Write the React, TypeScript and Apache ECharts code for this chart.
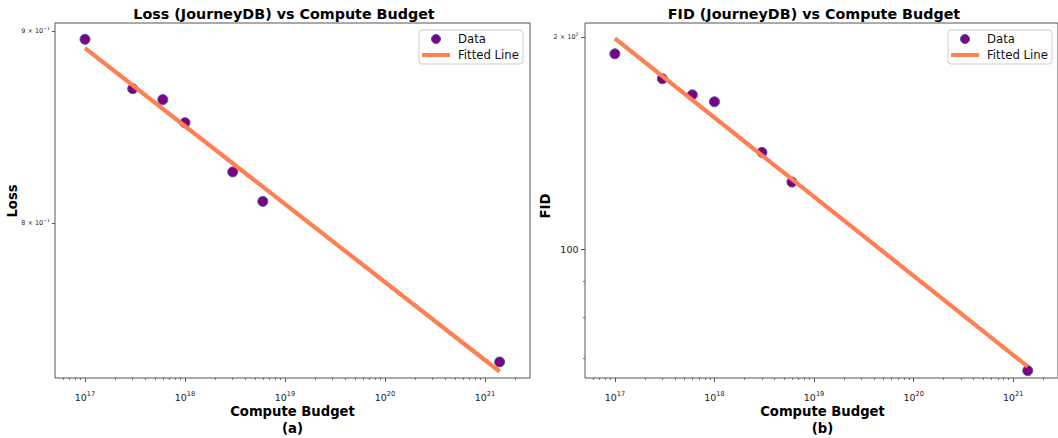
import React, { useEffect, useRef } from 'react';
import * as echarts from 'echarts';

// ---- data ----
const computeBudget = [1e17, 3e17, 6e17, 1e18, 3e18, 6e18, 1.4e21];
const lossValues = [0.8954, 0.8687, 0.8629, 0.8508, 0.8255, 0.8107, 0.7347];
const fidValues = [189.2, 174.4, 165.5, 161.8, 137.2, 124.5, 67.3];
const fitBudget = [1e17, 1.4e21];
const lossFit = [0.8906, 0.7304];
const fidFit = [198.9, 68.2];

// ---- ticks ----
const xMajorTicks = [1e17, 1e18, 1e19, 1e20, 1e21];
const xMinorTicks = [
  6e16, 7e16, 8e16, 9e16,
  2e17, 3e17, 4e17, 5e17, 6e17, 7e17, 8e17, 9e17,
  2e18, 3e18, 4e18, 5e18, 6e18, 7e18, 8e18, 9e18,
  2e19, 3e19, 4e19, 5e19, 6e19, 7e19, 8e19, 9e19,
  2e20, 3e20, 4e20, 5e20, 6e20, 7e20, 8e20, 9e20,
  2e21,
];
const lossTicks = [0.8, 0.9];
const lossTickLabels = ['{m|8 × 10}{t|−1}', '{m|9 × 10}{t|−1}'];
const fidMajorTicks = [100, 200];
const fidTickLabels = ['{b|100}', '{m|2 × 10}{t|2}'];
const fidMinorTicks = [70, 80, 90];

const X_MIN = Math.pow(10, 16.7);
const X_MAX = Math.pow(10, 21.45);
const LOSS_MIN = 0.7275;
const LOSS_MAX = 0.9044;
const FID_MIN = 65.7;
const FID_MAX = 209.2;

const FONT = 'DejaVu Sans';
const SPINE = '#555';
const LINE_COLOR = '#FF7F50';
const DOT_COLOR = '#800080';

const xRich = {
  b: { fontFamily: FONT, fontSize: 9.5, lineHeight: 13, color: '#222' },
  s: { fontFamily: FONT, fontSize: 6.6, lineHeight: 7, verticalAlign: 'top', color: '#222' },
};
const yRich = {
  m: { fontFamily: FONT, fontSize: 6.5, lineHeight: 10, color: '#222' },
  t: { fontFamily: FONT, fontSize: 4.6, lineHeight: 5, verticalAlign: 'top', color: '#222' },
  b: { fontFamily: FONT, fontSize: 9.5, lineHeight: 12, color: '#222' },
};

function xFormatter(v: number) {
  const e = Math.round(Math.log10(v));
  return `{b|10}{s|${e}}`;
}

function makeXAxes(grid: number) {
  return [
    {
      type: 'log',
      logBase: 10,
      gridIndex: grid,
      min: X_MIN,
      max: X_MAX,
      position: 'bottom',
      axisLine: { show: false },
      splitLine: { show: false },
      axisTick: { show: true, length: 4, customValues: xMajorTicks, lineStyle: { color: SPINE, width: 1 } },
      axisLabel: { show: true, customValues: xMajorTicks, formatter: xFormatter, margin: 12.5, rich: xRich },
    },
    {
      type: 'log',
      logBase: 10,
      gridIndex: grid,
      min: X_MIN,
      max: X_MAX,
      position: 'bottom',
      axisLine: { show: false },
      splitLine: { show: false },
      axisTick: { show: true, length: 2, customValues: xMinorTicks, lineStyle: { color: SPINE, width: 0.8 } },
      axisLabel: { show: false },
    },
  ];
}

export default function App() {
  const ref = useRef<HTMLDivElement>(null);

  useEffect(() => {
    if (!ref.current) return;
    const chart = echarts.init(ref.current, undefined, { renderer: 'svg' });

    const scatterStyle = {
      symbol: 'circle',
      symbolSize: 10,
      itemStyle: { color: DOT_COLOR, borderColor: '#3a5fb0', borderWidth: 1, opacity: 1 },
      z: 2,
    };
    const lineStyle = {
      symbol: 'none',
      showSymbol: false,
      lineStyle: { color: LINE_COLOR, width: 4.2 },
      itemStyle: { color: LINE_COLOR },
      z: 3,
    };

    const legendBase = {
      orient: 'vertical',
      top: 30,
      selectedMode: false,
      backgroundColor: '#fff',
      borderColor: '#ccc',
      borderWidth: 1,
      borderRadius: 3,
      padding: [2, 4, 2, 3],
      itemWidth: 28,
      itemHeight: 9,
      itemGap: 2,
      textStyle: { fontFamily: FONT, fontSize: 11.7, lineHeight: 14, color: '#111', padding: [0, 0, 0, 3] },
      data: [
        { name: 'Data', icon: 'circle', itemStyle: { color: DOT_COLOR, borderColor: '#3a5fb0', borderWidth: 1, opacity: 1 } },
        {
          name: 'Fitted Line',
          icon: 'path://M0,0L28,0L28,4L0,4Z',
          itemStyle: { color: LINE_COLOR, borderWidth: 0 },
          lineStyle: { width: 0, opacity: 0 },
        },
      ],
    };

    const textStyleBold = (size: number) => ({
      fontFamily: FONT,
      fontWeight: 'bold',
      fontSize: size,
      fill: '#000',
    });

    chart.setOption({
      animation: false,
      backgroundColor: '#fff',
      grid: [
        { left: 55, top: 23, width: 475, height: 355, show: true, borderColor: SPINE, borderWidth: 1, backgroundColor: 'transparent' },
        { left: 585, top: 23, width: 475, height: 355, show: true, borderColor: SPINE, borderWidth: 1, backgroundColor: 'transparent' },
      ],
      xAxis: [...makeXAxes(0), ...makeXAxes(1)],
      yAxis: [
        {
          type: 'log',
          logBase: 10,
          gridIndex: 0,
          min: LOSS_MIN,
          max: LOSS_MAX,
          position: 'left',
          axisLine: { show: false },
          splitLine: { show: false },
          axisTick: { show: true, length: 3, customValues: lossTicks, lineStyle: { color: SPINE } },
          axisLabel: {
            customValues: lossTicks,
            margin: 5,
            formatter: (v: number) => lossTickLabels[lossTicks.findIndex((t) => Math.abs(t - v) < 1e-6)] ?? '',
            rich: yRich,
          },
        },
        {
          type: 'log',
          logBase: 10,
          gridIndex: 1,
          min: FID_MIN,
          max: FID_MAX,
          position: 'left',
          axisLine: { show: false },
          splitLine: { show: false },
          axisTick: { show: true, length: 4, customValues: fidMajorTicks, lineStyle: { color: SPINE } },
          axisLabel: {
            customValues: fidMajorTicks,
            margin: 6.5,
            formatter: (v: number) => fidTickLabels[fidMajorTicks.findIndex((t) => Math.abs(t - v) < 1e-6)] ?? '',
            rich: yRich,
          },
        },
        {
          type: 'log',
          logBase: 10,
          gridIndex: 1,
          min: FID_MIN,
          max: FID_MAX,
          position: 'left',
          axisLine: { show: false },
          splitLine: { show: false },
          axisTick: { show: true, length: 2, customValues: fidMinorTicks, lineStyle: { color: SPINE, width: 0.8 } },
          axisLabel: { show: false },
        },
      ],
      legend: [
        { ...legendBase, left: 419 },
        { ...legendBase, left: 948 },
      ],
      series: [
        {
          type: 'scatter',
          name: 'Data',
          xAxisIndex: 0,
          yAxisIndex: 0,
          data: computeBudget.map((c, i) => [c, lossValues[i]]),
          ...scatterStyle,
        },
        {
          type: 'line',
          name: 'Fitted Line',
          xAxisIndex: 0,
          yAxisIndex: 0,
          data: fitBudget.map((c, i) => [c, lossFit[i]]),
          ...lineStyle,
        },
        {
          type: 'scatter',
          name: 'Data',
          xAxisIndex: 2,
          yAxisIndex: 1,
          data: computeBudget.map((c, i) => [c, fidValues[i]]),
          ...scatterStyle,
        },
        {
          type: 'line',
          name: 'Fitted Line',
          xAxisIndex: 2,
          yAxisIndex: 1,
          data: fitBudget.map((c, i) => [c, fidFit[i]]),
          ...lineStyle,
        },
      ],
      graphic: [
        { type: 'text', x: 284, y: 13.5, style: { text: 'Loss (JourneyDB) vs Compute Budget', align: 'center', verticalAlign: 'middle', ...textStyleBold(14.3) } },
        { type: 'text', x: 814, y: 13.5, style: { text: 'FID (JourneyDB) vs Compute Budget', align: 'center', verticalAlign: 'middle', ...textStyleBold(14.3) } },
        { type: 'text', x: 292.5, y: 411.7, style: { text: 'Compute Budget', align: 'center', verticalAlign: 'middle', ...textStyleBold(13.2) } },
        { type: 'text', x: 292.5, y: 428, style: { text: '(a)', align: 'center', verticalAlign: 'middle', ...textStyleBold(13.2) } },
        { type: 'text', x: 822.5, y: 411.7, style: { text: 'Compute Budget', align: 'center', verticalAlign: 'middle', ...textStyleBold(13.2) } },
        { type: 'text', x: 822.5, y: 428, style: { text: '(b)', align: 'center', verticalAlign: 'middle', ...textStyleBold(13.2) } },
        { type: 'text', x: 12.7, y: 201, rotation: Math.PI / 2, style: { text: 'Loss', align: 'center', verticalAlign: 'middle', ...textStyleBold(13.2) } },
        { type: 'text', x: 545, y: 206, rotation: Math.PI / 2, style: { text: 'FID', align: 'center', verticalAlign: 'middle', ...textStyleBold(13.2) } },
      ],
    });

    return () => chart.dispose();
  }, []);

  return (
    <div
      ref={ref}
      style={{ position: 'absolute', left: 0, top: 0, width: 1058, height: 438, background: '#fff' }}
    />
  );
}
